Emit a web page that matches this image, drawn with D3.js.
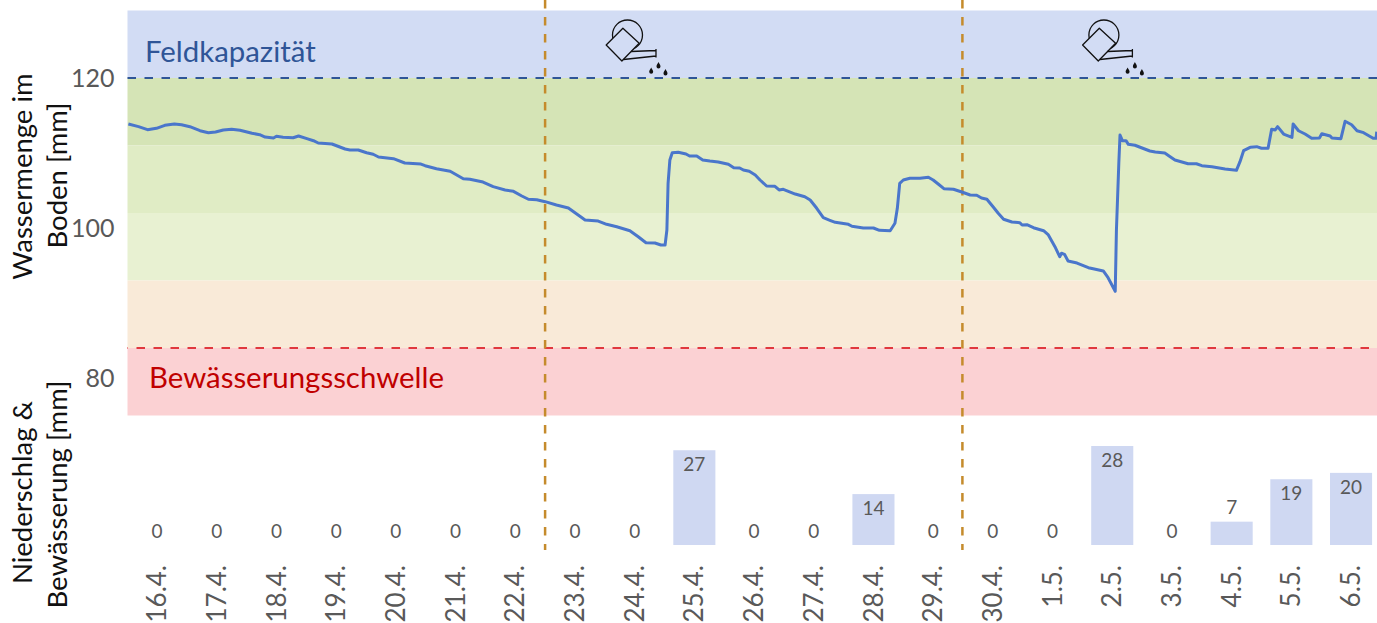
<!DOCTYPE html>
<html lang="de">
<head>
<meta charset="utf-8">
<title>Wassermenge im Boden</title>
<script src="https://cdn.jsdelivr.net/npm/d3@7"></script>
<style>
html,body{margin:0;padding:0;background:#fff;overflow:hidden}
svg{display:block}
text{font-family:Lato,"Open Sans",sans-serif}
</style>
</head>
<body>
<svg id="chart" width="1377" height="623"></svg>
<script>
const dates = ["16.4.","17.4.","18.4.","19.4.","20.4.","21.4.","22.4.","23.4.","24.4.","25.4.","26.4.","27.4.","28.4.","29.4.","30.4.","1.5.","2.5.","3.5.","4.5.","5.5.","6.5."];
const rainfall = [0,0,0,0,0,0,0,0,0,26.8,0,0,14.4,0,0,0,28,0,6.6,18.6,20.4];
const yTicks = [120,100,80];
const bandEdges = [129,120,111,102,93,84,75];
const bandColors = ["#d2dcf4","#d5e4b6","#e0ecc5","#e8f1d2","#f9ead8","#fbd1d3"];
const fieldCapacity = 120;
const irrigationThreshold = 84;
const phaseDays = [7,13.99];
const irrigationIconDays = [8.38,16.36];
const soilWater = [
[0.02,113.87],[0.19,113.51],[0.34,113.11],[0.49,113.29],[0.63,113.69],[0.79,113.87],[0.91,113.77],[1.05,113.51],[1.22,112.97],[1.36,112.71],
[1.48,112.80],[1.61,113.07],[1.75,113.16],[1.89,113.03],[2.09,112.63],[2.22,112.44],[2.31,112.13],[2.45,112.00],[2.50,112.23],[2.61,112.09],
[2.78,112.04],[2.87,112.27],[3.01,111.91],[3.12,111.64],[3.20,111.33],[3.43,111.20],[3.65,110.53],[3.73,110.40],[3.87,110.40],[4.01,110.04],
[4.12,109.83],[4.21,109.47],[4.46,109.24],[4.65,108.67],[4.92,108.53],[4.99,108.31],[5.18,107.91],[5.41,107.56],[5.63,106.57],[5.74,106.49],
[5.96,106.13],[6.13,105.51],[6.33,105.07],[6.47,104.89],[6.61,104.27],[6.72,103.83],[6.86,103.77],[7.00,103.51],[7.19,103.07],[7.39,102.67],
[7.53,101.87],[7.67,101.07],[7.89,100.93],[8.03,100.49],[8.20,100.17],[8.42,99.64],[8.56,98.84],[8.69,98.04],[8.84,98.00],[8.94,97.73],
[9.01,97.73],[9.04,99.73],[9.06,105.96],[9.09,109.07],[9.13,110.04],[9.23,110.09],[9.36,109.87],[9.42,109.60],[9.54,109.60],[9.64,109.07],
[9.76,108.93],[9.90,108.80],[10.07,108.49],[10.16,108.04],[10.26,108.00],[10.32,107.73],[10.42,107.56],[10.52,107.07],[10.60,106.40],[10.71,105.60],
[10.85,105.56],[10.92,105.07],[10.99,105.16],[11.19,104.53],[11.35,104.17],[11.44,103.73],[11.55,102.63],[11.66,101.37],[11.77,101.03],[11.86,100.76],
[12.08,100.49],[12.14,100.23],[12.33,100.00],[12.50,100.00],[12.60,99.69],[12.78,99.64],[12.86,100.63],[12.90,102.63],[12.94,105.96],[13.00,106.40],
[13.11,106.63],[13.28,106.63],[13.42,106.76],[13.50,106.40],[13.59,105.83],[13.68,105.24],[13.84,105.16],[13.98,104.80],[14.12,104.40],[14.23,104.36],
[14.31,104.00],[14.40,103.83],[14.51,102.76],[14.59,101.96],[14.68,101.16],[14.82,100.80],[14.95,100.71],[14.99,100.40],[15.07,100.44],[15.18,100.04],
[15.35,99.64],[15.43,99.07],[15.54,97.51],[15.62,96.17],[15.65,96.63],[15.70,96.49],[15.76,95.60],[15.91,95.33],[16.10,94.71],[16.18,94.57],
[16.35,94.27],[16.43,93.37],[16.55,91.56],[16.57,99.73],[16.61,108.63],[16.63,112.40],[16.67,111.64],[16.73,111.64],[16.77,111.16],[16.88,111.03],
[17.13,110.27],[17.22,110.13],[17.38,110.00],[17.47,109.51],[17.55,109.07],[17.77,108.57],[17.91,108.57],[18.00,108.31],[18.17,108.17],[18.39,107.87],
[18.58,107.69],[18.64,108.84],[18.70,110.31],[18.81,110.76],[18.92,110.84],[19.00,110.63],[19.11,110.63],[19.17,113.16],[19.23,113.07],[19.27,113.51],
[19.37,112.53],[19.51,112.09],[19.53,113.87],[19.62,112.97],[19.73,112.53],[19.84,111.96],[19.97,112.00],[20.01,112.57],[20.15,112.27],[20.18,112.00],
[20.33,111.91],[20.40,114.23],[20.51,113.77],[20.60,112.97],[20.71,112.71],[20.87,111.96],[20.92,111.96],[20.93,112.84]
];

const svg = d3.select("#chart");
const left = 127.2, step = 59.7;
const xDay = d3.scaleLinear().domain([0,21]).range([left, left + 21*step]);
const xBand = d3.scaleBand().domain(dates).range([left, left + 21*step]).paddingInner(0.295).paddingOuter(0.1475);
const y = d3.scaleLinear().domain([120,80]).range([78,378]);
const yBar = d3.scaleLinear().domain([0,28]).range([545,446]);
const right = 1377, bandLeft = 127.5;

// background bands
svg.append("g").selectAll("rect").data(bandColors).join("rect")
  .attr("x", bandLeft).attr("width", right-bandLeft)
  .attr("y", (d,i)=>y(bandEdges[i]))
  .attr("height", (d,i)=>y(bandEdges[i+1])-y(bandEdges[i]))
  .attr("fill", d=>d);

// threshold lines
svg.append("line").attr("x1",bandLeft).attr("x2",right)
  .attr("y1",y(fieldCapacity)).attr("y2",y(fieldCapacity))
  .attr("stroke","#2f5597").attr("stroke-width",2.2).attr("stroke-dasharray","8.5 8.5");
svg.append("line").attr("x1",bandLeft).attr("x2",right)
  .attr("y1",y(irrigationThreshold)).attr("y2",y(irrigationThreshold))
  .attr("stroke","#e0383e").attr("stroke-width",2.2).attr("stroke-dasharray","8.5 8.5").attr("stroke-dashoffset",8);

// band labels
svg.append("text").attr("x",145).attr("y",62).attr("fill","#2f5597").attr("font-size",29.4).text("Feldkapazität");
svg.append("text").attr("x",149).attr("y",388).attr("fill","#c00000").attr("font-size",29.4).text("Bewässerungsschwelle");

// phase separators
svg.append("g").selectAll("line").data(phaseDays).join("line")
  .attr("x1",d=>xDay(d)).attr("x2",d=>xDay(d)).attr("y1",0).attr("y2",550)
  .attr("stroke","#c58b2c").attr("stroke-width",2.5).attr("stroke-dasharray","8.5 8.5");

// soil water line
const line = d3.line().x(d=>xDay(d[0])).y(d=>y(d[1]));
svg.append("path").datum(soilWater).attr("d",line).attr("fill","none")
  .attr("stroke","#4a76cb").attr("stroke-width",3).attr("stroke-linejoin","round");

// watering can icons
const icon = svg.append("g").selectAll("g").data(irrigationIconDays).join("g")
  .attr("transform",d=>`translate(${xDay(d)},35)`);
icon.append("circle").attr("r",15).attr("fill","none").attr("stroke","#111").attr("stroke-width",1.3);
icon.append("path").attr("d","M-4.6,-6.7L11.7,8.3L-5.6,26L-21.3,10Z").attr("fill","#d2dcf4").attr("stroke","#111").attr("stroke-width",1.3).attr("stroke-linejoin","round");
icon.append("path").attr("d","M3.5,16.5L28.5,15.5M-4,24.5L28.5,21M28.5,14V22.5").attr("fill","none").attr("stroke","#111").attr("stroke-width",1.3);
icon.selectAll(".drop").data([[23.7,36],[31,30.7],[38,37.7]]).join("path").attr("class","drop")
  .attr("transform",d=>`translate(${d[0]},${d[1]})`)
  .attr("d","M0,-3.6C0.8,-1.8 2,-1 2,0.7A2,2 0 0 1 -2,0.7C-2,-1 -0.8,-1.8 0,-3.6Z").attr("fill","#111");

// rainfall bars
svg.append("g").selectAll("rect").data(rainfall).join("rect")
  .attr("x",(d,i)=>xBand(dates[i])).attr("width",xBand.bandwidth())
  .attr("y",d=>yBar(d)).attr("height",d=>yBar(0)-yBar(d))
  .attr("fill","#cfd8f2");
const fmt = d3.format(".0f");
svg.append("g").selectAll("text").data(rainfall).join("text")
  .attr("x",(d,i)=>xBand(dates[i])+xBand.bandwidth()/2)
  .attr("y",d=>d>=10 ? yBar(d)+14.5 : yBar(d)-14)
  .attr("dy","0.35em").attr("text-anchor","middle")
  .attr("fill","#595959").attr("font-size",19).text(d=>fmt(d));

// axes
const gy = svg.append("g").attr("transform","translate(114.5,0)")
  .call(d3.axisLeft(y).tickValues(yTicks).tickSize(0).tickPadding(0));
gy.select(".domain").remove();
gy.selectAll("text").attr("fill","#595959").attr("font-size",25).style("font-family","Lato");

const gx = svg.append("g").attr("transform","translate(0,565)")
  .call(d3.axisBottom(xBand).tickSize(0).tickPadding(0));
gx.select(".domain").remove();
gx.selectAll("text").attr("fill","#595959").attr("font-size",26).style("font-family","Lato")
  .attr("text-anchor","end").attr("transform","rotate(-90)").attr("x",0).attr("y",0).attr("dy","0.35em");

// axis titles
const titles = [["Wassermenge im",31.5,176.5],["Boden [mm]",67,175.5],["Niederschlag &",32,492.5],["Bewässerung [mm]",67,494.5]];
svg.append("g").selectAll("text").data(titles).join("text")
  .attr("transform",d=>`translate(${d[1]},${d[2]}) rotate(-90)`)
  .attr("text-anchor","middle").attr("fill","#111").attr("font-size",27.5).text(d=>d[0]);
</script>
</body>
</html>
